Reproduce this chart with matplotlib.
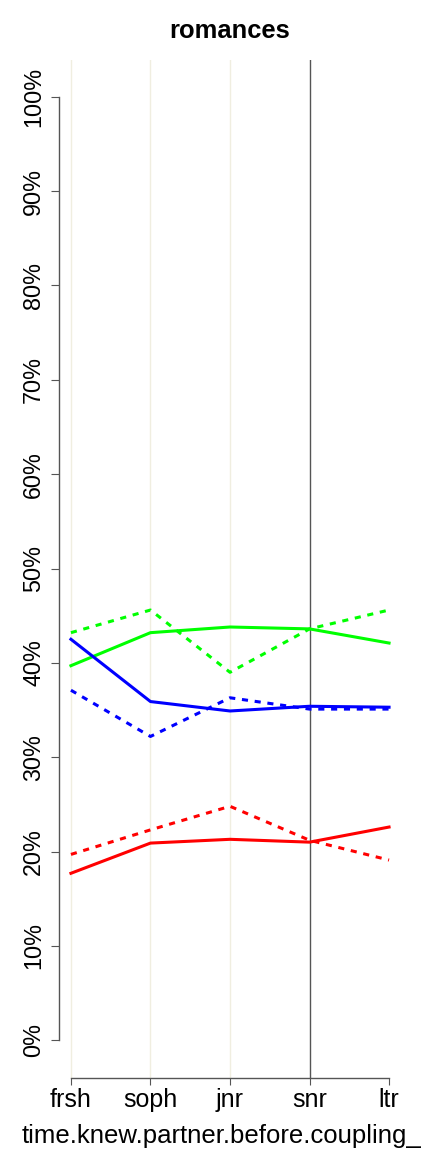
import matplotlib.pyplot as plt
import numpy as np

plt.rcParams['font.family'] = ['Liberation Sans', 'DejaVu Sans']

# --- data ---
categories = ['frsh', 'soph', 'jnr', 'snr', 'ltr']
green_solid = [39.7, 43.2, 43.8, 43.6, 42.1]
green_dotted = [43.2, 45.6, 39.0, 43.6, 45.6]
blue_solid = [42.5, 35.9, 34.9, 35.4, 35.3]
blue_dotted = [37.1, 32.2, 36.3, 35.1, 35.1]
red_solid = [17.7, 20.9, 21.3, 21.0, 22.6]
red_dotted = [19.7, 22.3, 24.8, 21.2, 19.1]
y_ticks = [0, 10, 20, 30, 40, 50, 60, 70, 80, 90, 100]

fig = plt.figure(figsize=(4.32, 11.52), dpi=100)
ax = fig.add_axes([0.1366, 0.0642, 0.7916, 0.8838])

x = np.arange(len(categories))

# vertical reference lines
for i in range(3):
    ax.axvline(x[i], color='#f0eee0', lw=1.0, zorder=1)
ax.axvline(x[3], color='#555555', lw=1.0, zorder=1)

lw = 2.2
dots = (0, (2, 2.2))
ax.plot(x, green_solid, color='#00ff00', lw=lw, zorder=3)
ax.plot(x, green_dotted, color='#00ff00', lw=lw, ls=dots, zorder=3)
ax.plot(x, blue_solid, color='#0000ff', lw=lw, zorder=3)
ax.plot(x, blue_dotted, color='#0000ff', lw=lw, ls=dots, zorder=3)
ax.plot(x, red_solid, color='#ff0000', lw=lw, zorder=3)
ax.plot(x, red_dotted, color='#ff0000', lw=lw, ls=dots, zorder=3)

ax.set_xlim(-0.15, 4.15)
ax.set_ylim(-4.0, 103.9)

ax.set_yticks(y_ticks)
ax.set_yticklabels([f'{v}%' for v in y_ticks])
ax.set_xticks(x)
ax.set_xticklabels(categories)

for s in ['top', 'right']:
    ax.spines[s].set_visible(False)
ax.spines['left'].set_bounds(0, 100)
ax.spines['bottom'].set_bounds(0, 4)
for s in ['left', 'bottom']:
    ax.spines[s].set_color('#555555')
    ax.spines[s].set_linewidth(1.0)
ax.tick_params(axis='y', length=6, color='#555555', pad=4,
               labelsize=16.8, labelrotation=90)
for lab in ax.get_yticklabels():
    lab.set_va('center')
ax.tick_params(axis='x', length=5, color='#555555', pad=2, labelsize=18)

ax.set_title('romances', fontsize=18.4, fontweight='bold', pad=16)
ax.set_xlabel('time.knew.partner.before.coupling_', fontsize=18.5)
ax.xaxis.set_label_coords(0.475, -0.045)

fig.savefig('out.png', dpi=100)
